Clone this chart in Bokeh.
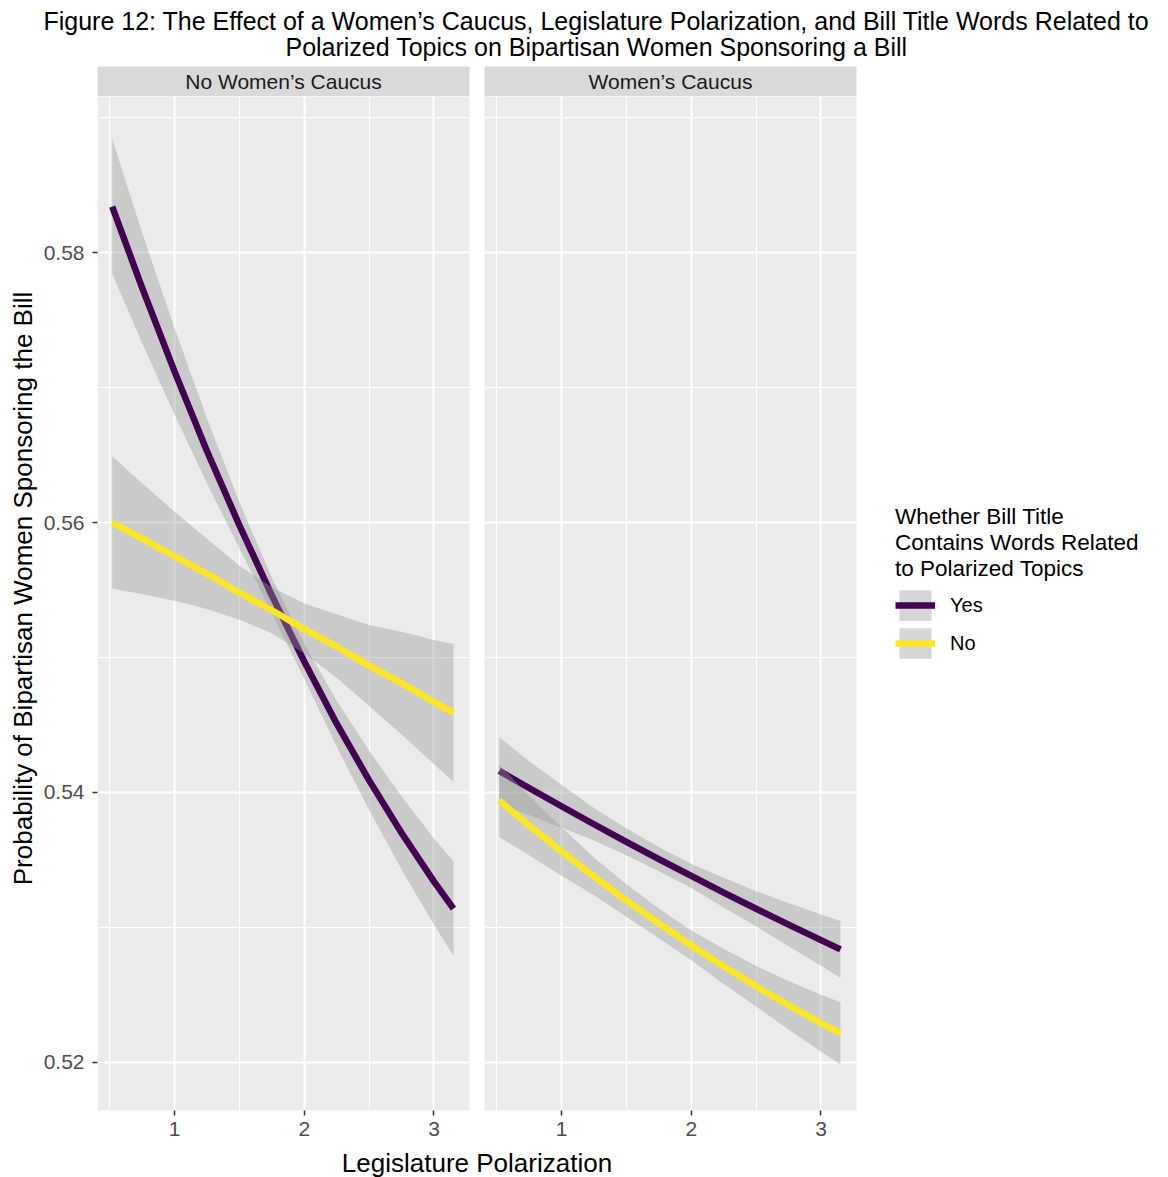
import math
from bokeh.plotting import figure
from bokeh.models import FixedTicker, Label, Legend, LegendItem, Range1d
from bokeh.layouts import column, row
from bokeh.embed import file_html
from bokeh.resources import INLINE

# ---------------- data ----------------
polarization = [0.52, 0.75, 1.0, 1.25, 1.5, 1.75, 2.0, 2.25, 2.5, 2.75, 3.0, 3.15]

facet_labels = ["No Women\u2019s Caucus", "Women\u2019s Caucus"]
series_labels = ["Yes", "No"]

# No Women's Caucus
nocaucus_yes = [0.5834, 0.5774, 0.5712, 0.5653, 0.5598, 0.5546, 0.5497, 0.5451, 0.5409, 0.5370, 0.5334, 0.5314]
nocaucus_yes_hi = [0.5884, 0.5815, 0.5744, 0.5677, 0.5615, 0.5559, 0.5510, 0.5468, 0.5431, 0.5397, 0.5366, 0.5349]
nocaucus_yes_lo = [0.5784, 0.5733, 0.5680, 0.5629, 0.5581, 0.5533, 0.5484, 0.5434, 0.5387, 0.5343, 0.5302, 0.5279]

nocaucus_no = [0.5600, 0.5588, 0.5575, 0.5562, 0.5548, 0.5535, 0.5521, 0.5508, 0.5494, 0.5481, 0.5467, 0.5459]
nocaucus_no_hi = [0.5649, 0.5629, 0.5608, 0.5588, 0.5568, 0.5552, 0.5540, 0.5532, 0.5524, 0.5519, 0.5513, 0.5510]
nocaucus_no_lo = [0.5551, 0.5547, 0.5542, 0.5536, 0.5528, 0.5518, 0.5503, 0.5485, 0.5464, 0.5443, 0.5421, 0.5408]

# Women's Caucus
caucus_yes = [0.5416, 0.54033, 0.53898, 0.53765, 0.53635, 0.53507, 0.53382, 0.53259, 0.53139, 0.53021, 0.52906, 0.52838]
caucus_yes_hi = [0.5441, 0.54233, 0.54058, 0.53885, 0.53735, 0.53597, 0.53472, 0.53369, 0.53269, 0.53181, 0.53096, 0.53048]
caucus_yes_lo = [0.5391, 0.53833, 0.53738, 0.53645, 0.53535, 0.53417, 0.53292, 0.53149, 0.53009, 0.52861, 0.52716, 0.52628]

caucus_no = [0.5394, 0.53756, 0.53563, 0.53378, 0.53200, 0.53030, 0.52867, 0.52712, 0.52564, 0.52424, 0.52291, 0.52216]
caucus_no_hi = [0.5421, 0.53976, 0.53743, 0.53518, 0.53320, 0.53140, 0.52977, 0.52842, 0.52714, 0.52604, 0.52501, 0.52446]
caucus_no_lo = [0.5367, 0.53536, 0.53383, 0.53238, 0.53080, 0.52920, 0.52757, 0.52582, 0.52414, 0.52244, 0.52081, 0.51986]

x_ticks = [1, 2, 3]
x_minor = [0.5, 1.5, 2.5, 3.5]
y_ticks = [0.52, 0.54, 0.56, 0.58]
y_minor = [0.51, 0.53, 0.55, 0.57, 0.59]

title_lines = [
    "Figure 12: The Effect of a Women\u2019s Caucus, Legislature Polarization, and Bill Title Words Related to",
    "Polarized Topics on Bipartisan Women Sponsoring a Bill",
]
x_title = "Legislature Polarization"
y_title = "Probability of Bipartisan Women Sponsoring the Bill"
legend_title = "Whether Bill Title\nContains Words Related\nto Polarized Topics"

# ---------------- style ----------------
FONT = "Liberation Sans"
PURPLE = "#440154"
YELLOW = "#FDE725"
PANEL_BG = "#EBEBEB"
STRIP_BG = "#D9D9D9"
FRAME_W = 372
FRAME_H = 1014
STRIP_H = 30
BOTTOM = 35
YLAB_W = 40
XR = (0.4066, 3.2736)
YR = (0.516444, 0.591556)


def blank(width, height):
    f = figure(width=width, height=height, output_backend="svg", toolbar_location=None,
               x_axis_type=None, y_axis_type=None, min_border=0)
    f.outline_line_color = None
    f.grid.visible = False
    f.background_fill_color = "white"
    f.border_fill_color = "white"
    return f


def strip(text, left, right):
    s = figure(frame_width=FRAME_W, frame_height=STRIP_H, output_backend="svg", toolbar_location=None,
               x_axis_type=None, y_axis_type=None, min_border_left=left, min_border_right=right,
               min_border_top=0, min_border_bottom=0)
    s.outline_line_color = None
    s.grid.visible = False
    s.background_fill_color = STRIP_BG
    s.border_fill_color = "white"
    s.add_layout(Label(x=FRAME_W / 2, y=STRIP_H / 2, x_units="screen", y_units="screen", text=text,
                       text_align="center", text_baseline="middle", text_font=FONT,
                       text_font_size="21px", text_color="#1a1a1a"))
    return s


def panel(left, right, show_y, yes, yes_lo, yes_hi, no, no_lo, no_hi):
    p = figure(frame_width=FRAME_W, frame_height=FRAME_H, output_backend="svg", toolbar_location=None,
               x_range=Range1d(*XR), y_range=Range1d(*YR),
               min_border_left=left, min_border_right=right, min_border_top=0, min_border_bottom=BOTTOM)
    p.background_fill_color = PANEL_BG
    p.border_fill_color = "white"
    p.outline_line_color = None

    p.xaxis.ticker = FixedTicker(ticks=x_ticks, minor_ticks=x_minor)
    p.yaxis.ticker = FixedTicker(ticks=y_ticks, minor_ticks=y_minor)
    p.xgrid.ticker = FixedTicker(ticks=x_ticks, minor_ticks=x_minor)
    p.ygrid.ticker = FixedTicker(ticks=y_ticks, minor_ticks=y_minor)
    for g in (p.xgrid, p.ygrid):
        g.grid_line_color = "white"
        g.grid_line_width = 2
        g.minor_grid_line_color = "white"
        g.minor_grid_line_width = 1

    for ax in (p.xaxis, p.yaxis):
        ax.axis_line_color = None
        ax.major_tick_line_color = "#333333"
        ax.major_tick_line_width = 1.5
        ax.major_tick_out = 5
        ax.major_tick_in = 0
        ax.minor_tick_line_color = None
        ax.major_label_text_color = "#4d4d4d"
        ax.major_label_text_font = FONT
        ax.major_label_text_font_size = "21px"
    p.xaxis.major_label_standoff = 6
    p.yaxis.major_label_standoff = 8
    if not show_y:
        p.yaxis.visible = False

    r_yes_band = p.varea(x=polarization, y1=yes_lo, y2=yes_hi, fill_color="#999999", fill_alpha=0.4)
    r_yes = p.line(x=polarization, y=yes, line_color=PURPLE, line_width=6.5, line_join="round")
    r_no_band = p.varea(x=polarization, y1=no_lo, y2=no_hi, fill_color="#999999", fill_alpha=0.4)
    r_no = p.line(x=polarization, y=no, line_color=YELLOW, line_width=6.5, line_join="round")
    return p, (r_yes_band, r_yes, r_no_band, r_no)


p1, _ = panel(97 - YLAB_W, 7, True, nocaucus_yes, nocaucus_yes_lo, nocaucus_yes_hi,
              nocaucus_no, nocaucus_no_lo, nocaucus_no_hi)
p2, rr = panel(8, 312, False, caucus_yes, caucus_yes_lo, caucus_yes_hi,
               caucus_no, caucus_no_lo, caucus_no_hi)

legend = Legend(
    items=[LegendItem(label=series_labels[0], renderers=[rr[0], rr[1]]),
           LegendItem(label=series_labels[1], renderers=[rr[2], rr[3]])],
    location=(39, 448), margin=0, padding=0, spacing=0,
    glyph_width=40, glyph_height=38, label_height=38, label_standoff=15,
    label_text_font=FONT, label_text_font_size="20px", label_text_color="black",
    title=legend_title, title_text_font=FONT, title_text_font_size="22.5px",
    title_text_font_style="normal", title_text_color="black", title_standoff=4,
    background_fill_alpha=0, border_line_color=None,
)
p2.add_layout(legend, "right")

s1 = strip(facet_labels[0], 97 - YLAB_W, 7)
s2 = strip(facet_labels[1], 8, 312)

# y-axis title, centred over strip + panel like ggplot
ylab_h = STRIP_H + FRAME_H + BOTTOM
ylab = blank(YLAB_W, ylab_h)
ylab.add_layout(Label(x=22, y=ylab_h - (588 - 66), x_units="screen", y_units="screen", text=y_title,
                      angle=math.pi / 2, text_align="center", text_baseline="middle", text_font=FONT,
                      text_font_size="26px", text_color="black"))

top = blank(1168, 66)
top.add_layout(Label(x=596, y=46, x_units="screen", y_units="screen", text=title_lines[0],
                     text_align="center", text_baseline="middle", text_font=FONT,
                     text_font_size="25px", text_color="black"))
top.add_layout(Label(x=596, y=20, x_units="screen", y_units="screen", text=title_lines[1],
                     text_align="center", text_baseline="middle", text_font=FONT,
                     text_font_size="25px", text_color="black"))

bottom = blank(1168, 32)
bottom.add_layout(Label(x=476.5, y=15, x_units="screen", y_units="screen", text=x_title,
                        text_align="center", text_baseline="middle", text_font=FONT,
                        text_font_size="26px", text_color="black"))

layout = column(top, row(ylab, column(s1, p1), column(s2, p2)), bottom)

open("out.html", "w").write(file_html(layout, INLINE))
